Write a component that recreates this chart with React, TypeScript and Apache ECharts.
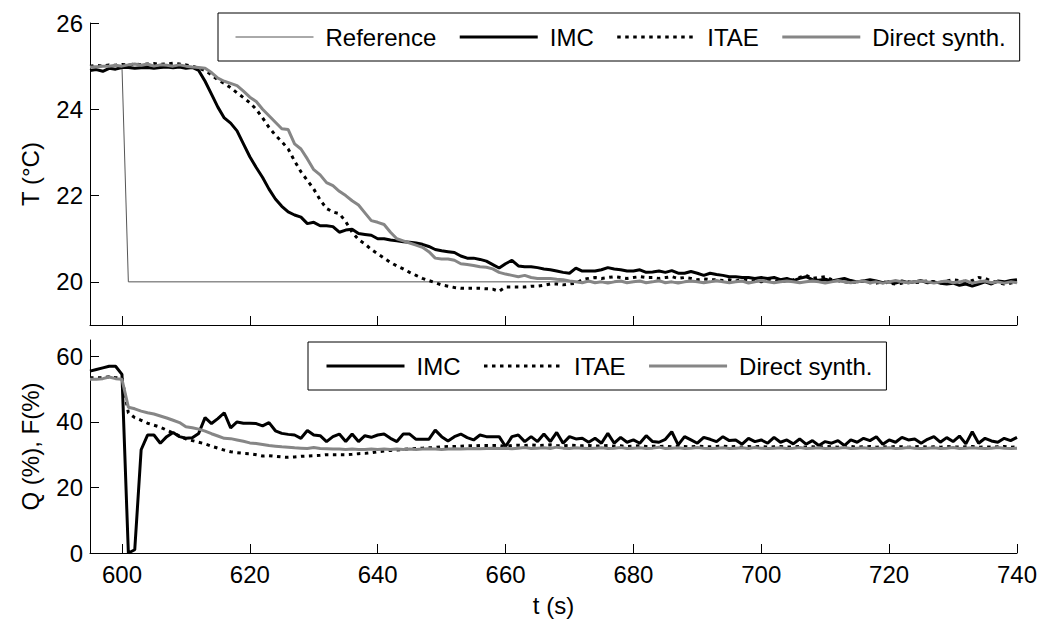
import React, { useEffect, useRef } from "react";
import * as echarts from "echarts";

// Sample times (1 s sampling from 595 s to 740 s)
const START_T = 595;
const N = 146;
const TIME = Array.from({ length: N }, (_, i) => START_T + i);

// Set-point (reference) step
const REF_TIME = [595, 600, 601, 740];
const REF_VAL = [25, 25, 20, 20];

// Temperature T (°C)
const T_IMC = [
  24.90, 24.92, 24.88, 24.95, 24.93, 24.97, 24.97, 24.95, 24.96, 24.97,
  24.95, 24.97, 24.98, 24.96, 24.98, 24.95, 24.97, 24.90, 24.65, 24.35,
  24.05, 23.80, 23.68, 23.50, 23.20, 22.90, 22.65, 22.42, 22.15, 21.92,
  21.75, 21.62, 21.55, 21.50, 21.35, 21.38, 21.30, 21.30, 21.28, 21.15,
  21.20, 21.22, 21.12, 21.10, 21.08, 21.00, 21.00, 20.97, 20.95, 20.93,
  20.92, 20.90, 20.87, 20.82, 20.75, 20.72, 20.70, 20.68, 20.60, 20.55,
  20.55, 20.52, 20.48, 20.40, 20.32, 20.42, 20.50, 20.37, 20.35, 20.35,
  20.33, 20.30, 20.28, 20.25, 20.22, 20.20, 20.32, 20.25, 20.25, 20.25,
  20.28, 20.33, 20.30, 20.28, 20.25, 20.25, 20.28, 20.22, 20.23, 20.25,
  20.22, 20.26, 20.20, 20.20, 20.24, 20.20, 20.15, 20.20, 20.17, 20.15,
  20.12, 20.12, 20.10, 20.10, 20.08, 20.10, 20.08, 20.10, 20.05, 20.08,
  20.03, 20.08, 20.12, 20.05, 20.04, 20.06, 20.02, 20.05, 20.08, 20.03,
  20.00, 20.02, 20.05, 20.02, 19.98, 20.00, 19.97, 20.02, 19.98, 20.00,
  20.03, 19.98, 20.00, 19.97, 19.95, 19.97, 19.92, 19.95, 19.90, 19.95,
  20.00, 19.95, 20.02, 20.00, 20.03, 20.05,
];
const T_ITAE = [
  25.00, 25.02, 25.00, 25.03, 25.02, 25.04, 25.02, 25.05, 25.03, 25.05,
  25.06, 25.04, 25.05, 25.07, 25.05, 25.03, 25.00, 24.95, 24.90, 24.80,
  24.68, 24.60, 24.50, 24.38, 24.27, 24.15, 24.00, 23.80, 23.58, 23.40,
  23.25, 23.08, 22.80, 22.55, 22.35, 22.15, 21.90, 21.70, 21.62, 21.58,
  21.40, 21.15, 20.98, 20.88, 20.75, 20.65, 20.55, 20.45, 20.37, 20.30,
  20.22, 20.15, 20.08, 20.03, 19.98, 19.93, 19.90, 19.87, 19.85, 19.85,
  19.85, 19.85, 19.84, 19.83, 19.78, 19.88, 19.88, 19.88, 19.88, 19.90,
  19.90, 19.92, 19.95, 19.95, 19.93, 19.95, 19.97, 20.05, 20.08, 20.10,
  20.08, 20.10, 20.12, 20.10, 20.08, 20.10, 20.12, 20.10, 20.10, 20.08,
  20.10, 20.12, 20.08, 20.10, 20.08, 20.05, 20.07, 20.05, 20.05, 20.03,
  20.05, 20.02, 20.05, 20.03, 20.02, 20.00, 20.05, 20.02, 20.00, 20.03,
  20.05, 20.10, 20.15, 20.08, 20.10, 20.12, 20.05, 20.03, 20.00, 19.98,
  20.00, 20.02, 19.98, 19.97, 20.00, 19.97, 19.95, 19.97, 20.00, 19.98,
  20.00, 20.02, 20.00, 19.98, 20.02, 20.05, 20.03, 20.00, 20.03, 20.10,
  20.08, 20.02, 19.98, 19.95, 19.97, 20.00,
];
const T_DS = [
  24.98, 24.98, 25.00, 25.00, 25.02, 25.00, 25.03, 25.05, 25.02, 25.05,
  25.00, 25.03, 25.02, 25.00, 25.03, 25.00, 24.98, 24.97, 24.95, 24.85,
  24.72, 24.65, 24.60, 24.55, 24.42, 24.28, 24.18, 24.00, 23.85, 23.70,
  23.55, 23.53, 23.20, 23.08, 22.85, 22.60, 22.48, 22.30, 22.23, 22.10,
  22.00, 21.88, 21.78, 21.60, 21.42, 21.38, 21.33, 21.15, 21.00, 20.95,
  20.90, 20.85, 20.80, 20.70, 20.55, 20.53, 20.53, 20.50, 20.42, 20.40,
  20.38, 20.35, 20.34, 20.30, 20.22, 20.18, 20.15, 20.12, 20.15, 20.10,
  20.08, 20.08, 20.08, 20.06, 20.05, 20.02, 20.00, 19.98, 20.02, 19.98,
  20.00, 19.97, 20.00, 20.02, 19.98, 20.00, 20.02, 19.98, 20.00, 20.03,
  19.98, 20.00, 19.97, 20.00, 20.02, 20.00, 19.98, 20.00, 20.03, 20.00,
  19.98, 20.00, 20.02, 19.97, 20.00, 20.03, 20.00, 19.98, 20.00, 20.02,
  20.00, 19.98, 20.00, 20.02, 20.00, 19.97, 20.00, 20.03, 20.00, 19.98,
  20.00, 20.02, 19.98, 20.00, 19.97, 20.00, 20.03, 20.00, 19.98, 20.00,
  20.02, 20.00, 19.97, 20.00, 20.02, 19.98, 20.00, 20.03, 19.97, 20.00,
  20.02, 19.98, 20.00, 19.97, 20.00, 19.98,
];

// Manipulated variable Q (%), F (%)
const Q_IMC = [
  55.5, 56.0, 56.5, 57.0, 57.0, 54.5, 0.0, 1.0, 31.5, 36.0,
  36.0, 33.5, 35.5, 36.8, 35.5, 35.0, 35.2, 36.5, 41.3, 39.5,
  41.0, 42.8, 38.2, 40.0, 39.6, 39.6, 39.5, 38.8, 39.8, 37.3,
  36.5, 36.2, 36.0, 35.0, 37.4, 36.0, 35.8, 34.0, 35.5, 36.3,
  34.0, 36.3, 34.0, 35.8, 35.3, 36.0, 36.3, 35.0, 34.0, 36.3,
  36.3, 34.7, 34.7, 34.7, 37.5, 35.5, 34.2, 35.5, 36.3, 35.2,
  34.5, 36.0, 35.5, 35.5, 35.5, 32.5, 35.5, 36.0, 34.0, 35.5,
  34.0, 36.3, 34.0, 36.8, 33.5, 35.5, 34.8, 35.0, 33.8, 35.0,
  33.5, 36.5, 33.5, 35.3, 33.8, 34.5, 33.5, 35.8, 34.0, 33.8,
  34.7, 37.0, 33.0, 35.5, 34.5, 33.5, 35.3, 34.7, 34.0, 35.5,
  34.3, 34.5, 33.2, 35.0, 34.0, 34.5, 33.5, 35.3, 33.8, 34.5,
  33.3, 34.8, 33.2, 34.3, 32.8, 34.0, 33.5, 34.3, 32.8, 34.5,
  33.8, 35.0, 34.3, 35.5, 33.2, 34.5, 33.8, 35.3, 34.5, 34.8,
  33.5, 34.7, 35.5, 33.8, 35.2, 34.0, 35.7, 33.3, 37.0, 33.5,
  35.0, 34.2, 33.8, 35.0, 34.3, 35.3,
];
const Q_ITAE = [
  53.5, 53.5, 53.5, 53.8, 53.5, 53.3, 42.8, 41.3, 40.5, 39.6,
  39.0, 38.4, 37.5, 36.6, 35.7, 34.8, 34.3, 33.8, 33.3, 32.6,
  32.0, 31.4, 30.9, 30.6, 30.4, 30.3, 30.0, 29.6, 29.7, 29.5,
  29.3, 29.2, 29.3, 29.5, 29.6, 29.7, 29.8, 30.0, 30.0, 30.0,
  30.0, 30.1, 30.3, 30.4, 30.6, 30.9, 31.1, 31.3, 31.4, 31.6,
  31.8, 31.9, 32.0, 32.1, 32.2, 32.4, 32.5, 32.5, 32.6, 32.7,
  32.7, 32.8, 32.8, 32.8, 32.8, 32.5, 32.8, 32.9, 32.8, 33.0,
  32.8, 32.9, 33.0, 32.8, 32.7, 32.9, 32.8, 32.7, 32.8, 32.6,
  32.7, 32.8, 32.6, 32.7, 32.5, 32.6, 32.7, 32.5, 32.6, 32.5,
  32.6, 32.4, 32.6, 32.5, 32.4, 32.6, 32.5, 32.4, 32.5, 32.6,
  32.4, 32.5, 32.3, 32.5, 32.4, 32.5, 32.3, 32.4, 32.5, 32.3,
  32.4, 32.5, 32.3, 32.4, 32.3, 32.5, 32.4, 32.3, 32.4, 32.5,
  32.3, 32.4, 32.5, 32.3, 32.4, 32.3, 32.5, 32.4, 32.3, 32.4,
  32.5, 32.3, 32.4, 32.3, 32.5, 32.4, 32.3, 32.4, 32.5, 32.3,
  32.4, 32.3, 32.4, 32.5, 32.3, 32.4,
];
const Q_DS = [
  53.0, 53.0, 53.2, 53.7, 53.2, 53.0, 44.5, 44.0, 43.3, 42.8,
  42.4, 41.8, 41.2, 40.5, 39.8, 38.5, 38.2, 37.8, 37.2, 36.4,
  35.7, 35.0, 34.9, 34.5, 34.1, 33.6, 33.4, 33.1, 32.8, 32.6,
  32.4, 32.3, 32.1, 32.0, 31.9, 32.2, 31.9, 31.8, 31.7, 31.7,
  31.6, 31.7, 31.6, 31.6, 31.7, 31.6, 31.7, 31.6, 31.7, 31.6,
  31.7, 31.6, 31.7, 31.8, 31.7, 31.6, 31.7, 31.8, 31.7, 31.8,
  31.9, 31.8, 31.9, 32.0, 31.9, 32.0, 31.8, 32.0, 32.2, 31.9,
  32.0, 32.1, 31.9, 32.3, 32.0, 31.9, 32.1, 32.0, 31.9, 32.0,
  32.1, 31.9, 32.0, 32.2, 31.9, 32.0, 32.1, 31.9, 32.0, 32.3,
  31.9, 32.0, 32.1, 31.9, 32.0, 32.2, 32.0, 31.9, 32.0, 32.1,
  31.9, 32.0, 32.1, 31.9, 32.2, 32.0, 31.9, 32.0, 32.1, 31.9,
  32.0, 32.2, 31.9, 32.0, 32.1, 31.9, 32.0, 32.0, 32.2, 31.9,
  32.0, 32.1, 31.9, 32.0, 32.0, 32.1, 31.9, 32.0, 32.2, 32.0,
  31.9, 32.0, 32.1, 31.9, 32.0, 32.2, 31.9, 32.0, 32.1, 32.0,
  31.9, 32.0, 32.2, 32.0, 31.9, 32.0,
];

// Axis ticks
const X_TICKS = [600, 620, 640, 660, 680, 700, 720, 740];
const T_TICKS = [20, 22, 24, 26];
const Q_TICKS = [0, 20, 40, 60];

const FONT = "'Liberation Sans', Arial, Helvetica, sans-serif";
const GRAY = "#868686";

const pair = (vals: number[]) => vals.map((v, i) => [TIME[i], v]);

export default function App() {
  const ref = useRef<HTMLDivElement>(null);

  useEffect(() => {
    if (!ref.current) return;
    const chart = echarts.init(ref.current, undefined, { renderer: "svg" });

    const axisLine = { show: true, lineStyle: { color: "#000", width: 1 } };
    const xAxisBase = (gridIndex: number, showLabels: boolean) => ({
      type: "value",
      gridIndex,
      min: 595,
      max: 740,
      axisLine,
      axisTick: {
        show: true,
        inside: true,
        length: 9,
        customValues: X_TICKS,
        lineStyle: { color: "#000", width: 1 },
      },
      axisLabel: {
        show: showLabels,
        customValues: X_TICKS,
        fontSize: 24,
        fontFamily: FONT,
        color: "#000",
        margin: 9,
      },
      splitLine: { show: false },
    });
    const yAxisBase = (
      gridIndex: number,
      min: number,
      max: number,
      ticks: number[],
      name: string
    ) => ({
      type: "value",
      gridIndex,
      min,
      max,
      name,
      nameLocation: "middle",
      nameGap: 48,
      nameTextStyle: { fontSize: 24, fontFamily: FONT, color: "#000" },
      axisLine,
      axisTick: {
        show: true,
        inside: true,
        length: 9,
        customValues: ticks,
        lineStyle: { color: "#000", width: 1 },
      },
      axisLabel: {
        customValues: ticks,
        fontSize: 24,
        fontFamily: FONT,
        color: "#000",
        margin: 7,
      },
      splitLine: { show: false },
    });

    const refStyle = { color: "#555", width: 1 };
    const imcStyle = { color: "#000", width: 3 };
    const itaeStyle = { color: "#000", width: 3, type: [3.5, 4.5], cap: "butt" };
    const dsStyle = { color: GRAY, width: 3 };

    const line = (
      name: string,
      data: number[][],
      idx: number,
      lineStyle: any,
      z: number
    ) => ({
      type: "line",
      name,
      xAxisIndex: idx,
      yAxisIndex: idx,
      data,
      symbol: "none",
      showSymbol: false,
      lineStyle,
      itemStyle: { color: lineStyle.color },
      z,
    });

    const legendItem = (name: string, ls: any) => ({
      name,
      itemStyle: { opacity: 0 },
      lineStyle: { ...ls },
    });

    const legendBase = {
      orient: "horizontal",
      itemWidth: 78,
      itemHeight: 14,
      itemGap: 22,
      padding: [12, 14, 12, 17],
      borderColor: "#000",
      borderWidth: 1,
      backgroundColor: "#fff",
      selectedMode: false,
      itemStyle: { opacity: 0 },
      textStyle: {
        fontSize: 24,
        fontFamily: FONT,
        color: "#000",
        padding: [0, 0, 0, 7],
      },
    };

    chart.setOption({
      animation: false,
      backgroundColor: "#fff",
      grid: [
        { left: 90, right: 27, top: 23, height: 302 },
        { left: 90, right: 27, top: 340, height: 213 },
      ],
      legend: [
        {
          ...legendBase,
          left: 218,
          top: 13,
          data: [
            legendItem("Reference", refStyle),
            legendItem("IMC", imcStyle),
            legendItem("ITAE", itaeStyle),
            legendItem("Direct synth.", dsStyle),
          ],
        },
        {
          ...legendBase,
          left: 308,
          top: 342,
          data: [
            legendItem("IMC", imcStyle),
            legendItem("ITAE", itaeStyle),
            legendItem("Direct synth.", dsStyle),
          ],
        },
      ],
      xAxis: [
        xAxisBase(0, false),
        {
          ...xAxisBase(1, true),
          name: "t (s)",
          nameLocation: "middle",
          nameGap: 40,
          nameTextStyle: { fontSize: 24, fontFamily: FONT, color: "#000" },
        },
      ],
      yAxis: [
        yAxisBase(0, 19, 26, T_TICKS, "T (°C)"),
        yAxisBase(1, 0, 65, Q_TICKS, "Q (%), F(%)"),
      ],
      series: [
        line(
          "Reference",
          REF_TIME.map((tt, i) => [tt, REF_VAL[i]]),
          0,
          refStyle,
          1
        ),
        line("IMC", pair(T_IMC), 0, imcStyle, 2),
        line("ITAE", pair(T_ITAE), 0, itaeStyle, 3),
        line("Direct synth.", pair(T_DS), 0, dsStyle, 4),
        line("IMC", pair(Q_IMC), 1, imcStyle, 2),
        line("ITAE", pair(Q_ITAE), 1, itaeStyle, 3),
        line("Direct synth.", pair(Q_DS), 1, dsStyle, 4),
      ],
    });

    return () => chart.dispose();
  }, []);

  return (
    <div
      ref={ref}
      style={{
        position: "fixed",
        left: 0,
        top: 0,
        width: 1044,
        height: 635,
        background: "#fff",
      }}
    />
  );
}
